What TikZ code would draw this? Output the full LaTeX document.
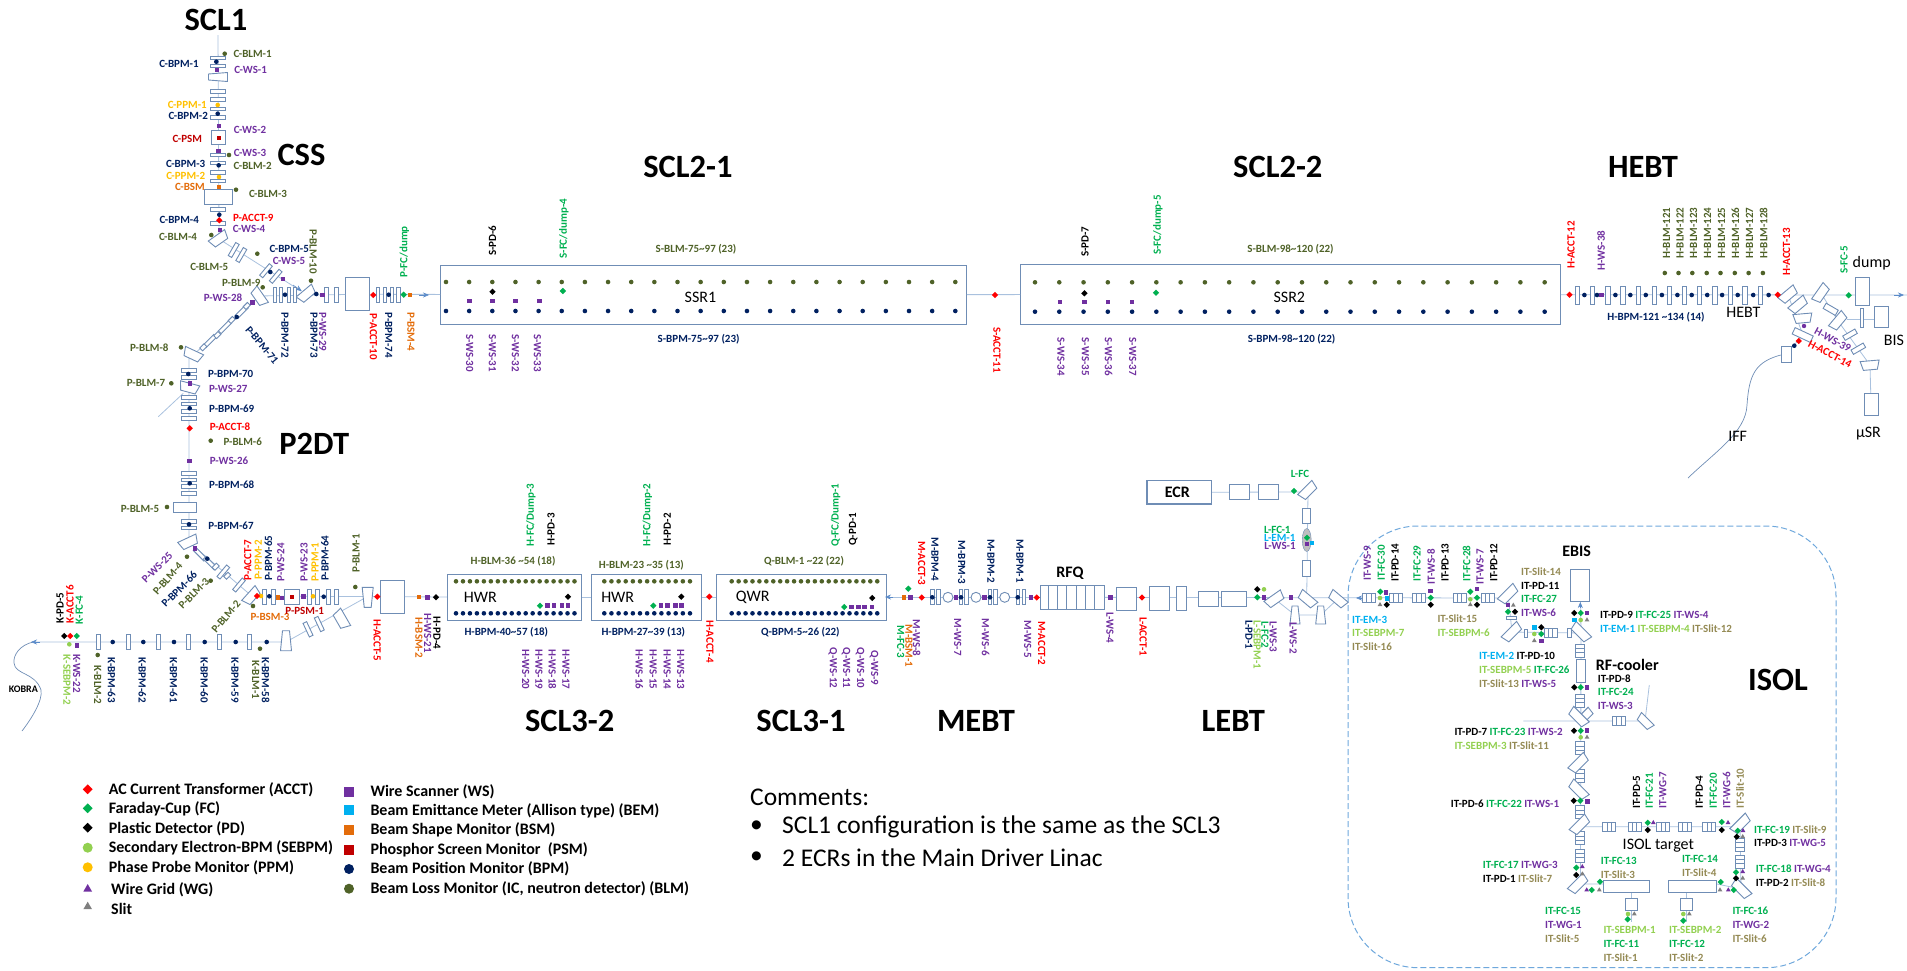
\documentclass[tikz,border=0pt]{standalone}
\usepackage{fontspec}
\setmainfont{Carlito}
\usetikzlibrary{shapes.geometric,arrows.meta}
\definecolor{cacct}{HTML}{FF0000}
\definecolor{cfc}{HTML}{00B050}
\definecolor{cpd}{HTML}{000000}
\definecolor{cseb}{HTML}{92D050}
\definecolor{cppm}{HTML}{FFC000}
\definecolor{cwg}{HTML}{7030A0}
\definecolor{cslit}{HTML}{7F7F7F}
\definecolor{tslit}{HTML}{948A54}
\definecolor{cws}{HTML}{7030A0}
\definecolor{cem}{HTML}{00B0F0}
\definecolor{cbsm}{HTML}{E36C0A}
\definecolor{cpsm}{HTML}{C00000}
\definecolor{cbpm}{HTML}{002060}
\definecolor{cblm}{HTML}{4F6228}
\definecolor{magline}{HTML}{6F8DB5}
\definecolor{beamline}{HTML}{A9C1DE}
\definecolor{arrowline}{HTML}{5B8BC9}
\definecolor{isolline}{HTML}{6FA8DC}
\newcounter{nid}
\tikzset{
	dot/.style={circle,inner sep=0pt,minimum size=4.6pt},
	sqr/.style={rectangle,inner sep=0pt,minimum size=4.4pt},
	dia/.style={diamond,inner sep=0pt,minimum size=6.5pt},
	tri/.style={regular polygon,regular polygon sides=3,inner sep=0pt,minimum size=5.5pt},
	acct/.style={dia,fill=cacct},
	fc/.style={dia,fill=cfc},
	pd/.style={dia,fill=cpd},
	seb/.style={dot,fill=cseb},
	ppm/.style={dot,fill=cppm},
	wg/.style={tri,fill=cwg},
	slit/.style={tri,fill=cslit},
	ws/.style={sqr,fill=cws},
	em/.style={sqr,fill=cem},
	bsm/.style={sqr,fill=cbsm},
	psm/.style={sqr,fill=cpsm},
	bpm/.style={dot,fill=cbpm},
	blm/.style={dot,fill=cblm},
	lg/.style={minimum size=10pt},
	lbl/.style={inner sep=0pt,font=\bfseries\fontsize{11}{12}\selectfont},
	ttl/.style={inner sep=0pt,font=\bfseries\fontsize{32.5}{34}\selectfont},
	blab/.style={inner sep=0pt,font=\fontsize{16}{18}\selectfont},
	bblab/.style={inner sep=0pt,font=\bfseries\fontsize{16}{18}\selectfont},
	leg/.style={inner sep=0pt,anchor=west,font=\bfseries\fontsize{16}{18}\selectfont},
	note/.style={inner sep=0pt,anchor=west,font=\fontsize{25.5}{28}\selectfont},
	mag/.style={rectangle,draw=magline,line width=0.9pt,fill=white,inner sep=0pt},
	box/.style={rectangle,draw=magline,line width=1.1pt,inner sep=0pt},
	mline/.style={draw=magline,line width=0.9pt,fill=white},
	beam/.style={draw=beamline,line width=0.8pt},
	arr/.style={draw=arrowline,line width=0.6pt,-{Stealth[length=6pt,width=5pt]}},
}
\newcommand{\mk}[3]{\stepcounter{nid}\node[#1] (m\thenid) at (#2,#3) {};}
\newcommand{\lb}[5][0]{\stepcounter{nid}\node[lbl,text=#2,rotate=#1] (t\thenid) at (#3,#4) {#5};}
\newcommand{\mg}[5]{\stepcounter{nid}\node[mag,minimum width=#3pt,minimum height=#4pt,rotate=#5] (g\thenid) at (#1,#2) {};}
\newcommand{\ttlb}[3]{\stepcounter{nid}\node[ttl] (h\thenid) at (#1,#2) {#3};}
\newcommand{\rw}[3]{\stepcounter{nid}\node[lbl,anchor=west] (r\thenid) at (#1,#2) {#3};}
\newcommand{\trp}[3]{\draw[mline,shift={(#1,#2)},rotate=#3] (-6.6,-4.6) rectangle (6.6,4.6) (-2.2,-4.6) -- (-2.2,4.6) (2.2,-4.6) -- (2.2,4.6);}
\newcommand{\dpl}[6]{\draw[mline,shift={(#1,#2)},rotate=#6] ({-#3/2},{-#5/2}) -- ({#3/2},{-#5/2}) -- ({#4/2},{#5/2}) -- ({-#4/2},{#5/2}) -- cycle;}
\newcommand{\tPD}[1]{\textcolor{cpd}{IT-PD-#1}}
\newcommand{\tFC}[1]{\textcolor{cfc}{IT-FC-#1}}
\newcommand{\tWS}[1]{\textcolor{cws}{IT-WS-#1}}
\newcommand{\tWG}[1]{\textcolor{cwg}{IT-WG-#1}}
\newcommand{\tEM}[1]{\textcolor{cem}{IT-EM-#1}}
\newcommand{\tSE}[1]{\textcolor{cseb}{IT-SEBPM-#1}}
\newcommand{\tSL}[1]{\textcolor{tslit}{IT-Slit-#1}}
\begin{document}
\begin{tikzpicture}[x=1pt,y=-1pt]
	\useasboundingbox (0,0) rectangle (1907,970);
	\node[box,minimum width=525.7pt,minimum height=59.3pt] (ssr1) at (703.5,294.7) {};
	\node[box,minimum width=539.6pt,minimum height=59.6pt] (ssr2) at (1290.5,294.5) {};
	\node[box,minimum width=134.4pt,minimum height=46pt] (hwr2) at (514.5,597.3) {};
	\node[box,minimum width=110pt,minimum height=46pt] (hwr1) at (646.7,597.3) {};
	\node[box,minimum width=169.7pt,minimum height=46pt] (qwr) at (801.2,597.3) {};
	\node[box,minimum width=64pt,minimum height=24pt] (rfq) at (1072.3,597.3) {};
	\node[box,minimum width=64.7pt,minimum height=23.3pt] (ecr) at (1179.3,492.3) {};
	\node[box,minimum width=19pt,minimum height=32pt] (ebis) at (1580.3,585.7) {};
	\node[box,minimum width=24pt,minimum height=33pt] (pbox) at (357.7,294.3) {};
	\node[box,minimum width=24pt,minimum height=33pt] (hbox) at (392.3,596.7) {};
	\draw[isolline,line width=1pt,dash pattern=on 6pt off 3pt,rounded corners=70pt] (1348,526) rectangle (1836,967.7);

	\draw[beam] (218,35) -- (219,232) -- (219,239) -- (301,291);
	\draw[beam] (259,296) -- (pbox) (pbox) -- (ssr1);
	\draw[beam] (259,297) -- (193,355) (189,355) -- (189,542) -- (251.7,596) -- (hbox);
	\draw[beam] (158.3,416.7) -- (183.3,393.3);
	\draw[beam] (hbox) -- (hwr2);
	\draw[beam] (hwr2) -- (hwr1);
	\draw[beam] (hwr1) -- (qwr);
	\draw[beam] (qwr) -- (rfq);
	\draw[beam] (33,642) -- (286,642) -- (366.7,597);
	\draw[beam] (ssr1) -- (ssr2);
	\draw[beam] (ssr2) -- (1907,295);
	\draw[beam] (rfq) -- (1510,598);
	\draw[beam] (ecr) -- (1308,492) -- (1306.7,598);
	\draw[beam] (1274.7,599) -- (1295,615) -- (1320.7,615) -- (1337.7,599);
	\draw[beam] (1788,295) -- (1803,335) -- (1786,354);
	\draw[beam] (1821,293) -- (1838,321) -- (1870,365) -- (1871,404);
	\draw[beam] (1846.7,319) -- (1881,319);
	\draw[magline,line width=0.7pt] (1780.7,355) .. controls (1755,362) and (1749,375) .. (1747,405) .. controls (1746,432) and (1715,452) .. (1688,478);
	\draw[magline,line width=0.7pt] (33,642) .. controls (20,645) and (13,655) .. (14,663) .. controls (15,675) and (35,672) .. (41,690) .. controls (43,700) and (32,718) .. (22,731);
	\draw[beam] (1508,594) -- (1512,632) -- (1581,633);
	\draw[beam] (ebis) -- (1581,632) -- (1580.5,884) -- (1627,884);
	\draw[beam] (1523.3,721) -- (1645,721) -- (1649.3,685);
	\draw[beam] (1580,826.7) -- (1740,826.7) -- (1741,889) -- (1717,884);
	\draw[beam] (1631.3,892) -- (1631.3,922) (1686.7,892) -- (1686.7,922);
	\draw[arr] (419,295) -- (429,295);
	\draw[arr] (1894,295) -- (1904,295);
	\draw[arr] (293,285) -- (301.7,291);
	\draw[arr] (40,642) -- (31,642);
	\draw[arr] (893,597) -- (885,597);
	\draw[arr] (1365,598) -- (1356,598);
	\draw[arr] (1580.3,608) -- (1580.3,602);

	\foreach \y in {58,66,91.3,99.3,109,117.7,155,163,172.3,181,209.3,223.7} {\mg{218}{\y}{15}{3.6}{0}}
	\dpl{218}{77}{9}{6}{19}{-90}
	\mg{218.7}{137.7}{14}{14}{0}
	\mg{218.7}{196.7}{28}{15}{0}
	\dpl{219}{239}{20}{15}{9}{35}
	\foreach \x/\y in {233.7/250,241.3/255} {\mg{\x}{\y}{15}{4}{60}}
	\foreach \x/\y in {266/270.7,275.7/276.3} {\mg{\x}{\y}{15}{4}{50}}
	\dpl{306.7}{294}{20}{15}{9}{40}
	\dpl{259}{296.7}{20}{15}{9}{-55}
	\foreach \x in {275,281,289,295,326.7,336.7,378,385,392,398.5} {\mg{\x}{295}{3.6}{15}{0}}
	\foreach \x/\y in {241.7/311.7,225/327,210/341} {\mg{\x}{\y}{15}{4}{45}}
	\foreach \x/\y in {246.7/306,231.7/320,217.3/335,203.3/347.3} {\mg{\x}{\y}{6}{4}{45}}
	\dpl{192.7}{354.7}{20}{15}{9}{-25}
	\foreach \y in {370.7,377.7,397.7,404,411.3,418.3,473.3,480,486.7,493.7,521.7,528} {\mg{189}{\y}{15}{3.6}{0}}
	\dpl{189}{387.7}{20}{15}{9}{-15}
	\mg{184.7}{507}{23}{10}{0}
	\dpl{188.7}{542.3}{20}{15}{9}{25}
	\foreach \x/\y in {200/554.3,210/563} {\mg{\x}{\y}{15}{4}{-45}}
	\foreach \x/\y in {223.3/572,239/585} {\mg{\x}{\y}{15}{4}{50}}
	\foreach \x/\y in {215.7/566.7,227.3/575.7} {\mg{\x}{\y}{6}{4}{45}}
	\dpl{251.7}{596}{20}{15}{9}{48}
	\foreach \x in {264.3,273.7,309,317.7,328.7,336} {\mg{\x}{596.7}{4}{15}{0}}
	\mg{291.7}{596.7}{15}{15}{0}
	\dpl{367.7}{597.3}{11}{7}{20}{0}
	\foreach \x in {98.3,128.7,158.7,188.7,219.3,249.3} {\mg{\x}{642}{4}{15}{0}}
	\dpl{286}{640.7}{7}{11}{20}{0}
	\foreach \x/\y in {308/629.3,319.3/624} {\mg{\x}{\y}{15}{4}{-65}}
	\dpl{341.3}{619.3}{20}{15}{10}{-60}

	\foreach \x in {1048.3,1057.7,1066.3,1076.7,1085.3,1094.3} {\draw[magline,line width=1pt] (\x,585.3) -- (\x,609.3);}
	\foreach \x in {932.7,938.7,961,966.7,990,995.3,1018,1024} {\mg{\x}{597.3}{3.6}{15}{0}}
	\foreach \x in {948,976,1004.7} {\draw[mline] (\x,597.3) circle (5);}
	\mg{1126}{599}{20}{23}{0}
	\mg{1159.3}{598.3}{20}{24}{0}
	\mg{1181.3}{598.3}{10}{24}{0}
	\mg{1208}{598.7}{20}{15}{0}
	\mg{1234}{598.7}{25}{15}{0}
	\dpl{1274.7}{599.3}{20}{16}{9}{35}
	\dpl{1295}{615}{6}{10}{18}{0}
	\dpl{1307.3}{599.3}{20}{16}{9}{-40}
	\dpl{1320.7}{615}{6}{10}{18}{0}
	\dpl{1337.7}{599.3}{20}{16}{9}{-40}
	\mg{1239.7}{492}{20}{15}{0}
	\mg{1268.3}{492}{20}{15}{0}
	\dpl{1308}{490.7}{20}{16}{9}{45}
	\mg{1306.3}{516.3}{8}{15}{0}
	\mg{1306.3}{568.3}{8}{16}{0}
	\node[ellipse,draw=magline,fill=lightgray,inner sep=0pt,minimum width=9pt,minimum height=23pt] (lfcell) at (1306.7,540) {};

	\foreach \x in {1577.5,1592.4,1607.9,1622.8,1638.3,1654.4,1669.3,1684.3,1699.2,1714.7,1730.2,1745.1,1760.6} {\mg{\x}{295}{4.5}{18}{0}}
	\dpl{1788.3}{294.7}{20}{16}{9}{40}
	\dpl{1798.3}{305}{20}{16}{9}{40}
	\dpl{1802.7}{318.3}{19}{14}{9}{5}
	\mg{1802.7}{335}{20}{7}{-25}
	\mg{1786.3}{354.3}{10}{16}{0}
	\dpl{1821}{293.3}{20}{16}{9}{55}
	\mg{1830.7}{309.3}{14}{6}{-30}
	\dpl{1838.3}{321}{20}{16}{9}{50}
	\foreach \x/\y in {1850/334.7,1858.3/348.7} {\mg{\x}{\y}{14}{5}{30}}
	\dpl{1870}{365.3}{19}{14}{9}{5}
	\mg{1871.4}{404.3}{14}{22}{0}
	\mg{1862.3}{291.7}{14.7}{28}{0}
	\mg{1862}{318.3}{3.5}{19}{0}
	\mg{1881}{316.7}{14}{21}{0}

	\foreach \x in {1369,1396,1419,1459.7,1487.7} {\trp{\x}{598}{0}}
	\dpl{1508.3}{594.3}{22}{18}{9}{45}
	\mg{1511}{617.7}{10}{3.5}{0}
	\dpl{1512}{632.3}{22}{18}{9}{45}
	\mg{1525.7}{633.3}{3}{8}{0}
	\trp{1550.7}{633.3}{0}
	\mg{1569.3}{633.3}{4}{9}{0}
	\dpl{1580.7}{632.3}{22}{18}{9}{-45}
	\foreach \y in {650.7,700.7,748.3,776,812.3,838.3,855.7} {\trp{1580.3}{\y}{90}}
	\mg{1580.7}{670.7}{9.5}{23}{0}
	\dpl{1586}{715}{14}{12}{8}{45}
	\dpl{1578.3}{717.3}{22}{18}{9}{-45}
	\trp{1619}{721}{0}
	\dpl{1645}{721.7}{18}{14}{8}{-45}
	\dpl{1578.7}{763.3}{22}{18}{9}{45}
	\dpl{1578.3}{790}{22}{18}{9}{-45}
	\dpl{1580}{825}{22}{18}{9}{45}
	\foreach \x in {1609.3,1634.7,1663.3,1685,1709.3} {\trp{\x}{826.7}{0}}
	\dpl{1740.7}{824}{22}{18}{9}{45}
	\foreach \y in {845,861.7} {\trp{1740}{\y}{90}}
	\dpl{1741}{889}{22}{18}{9}{-45}
	\dpl{1578.3}{884}{22}{18}{9}{45}
	\mg{1626.7}{886.7}{46}{12}{0}
	\mg{1692.7}{886.7}{48}{12}{0}
	\mg{1631.3}{904}{12}{12}{0}
	\mg{1686.7}{904}{12}{12}{0}

	\foreach \x/\y in {216.3/61.7,217.7/113.7,218.7/165.3,219.3/214.7,270.3/272,285/294.7,316.3/294,388.7/294.7,236.7/317,188.3/374,189.7/408.3,189.7/483.3,189/524.3,207.3/558.7,269.3/596.3,323.7/596.7} {\mk{bpm}{\x}{\y}}
	\foreach \x/\y in {224.7/53.7,229/155,236/189.7,211.3/235,257.3/253.7,311/280.7,262.7/287.3,181/347.3,171.3/383.3,210.7/440.7,167/507,187/556.7,210.7/580.7,253/606,355.3/587,260/648.7,97.7/655} {\mk{blm}{\x}{\y}}
	\foreach \x/\y in {216.7/70,218.7/126,218.3/151,220/229.7,282.7/278.7,322.3/294.7,252.3/302.3,189.7/383.3,189.3/461,195/548.3,282/597.7,303.3/596.3,427.3/597.3,76.7/645.3} {\mk{ws}{\x}{\y}}
	\foreach \x/\y in {217.7/105,219/177,261/596,313/596.3} {\mk{ppm}{\x}{\y}}
	\foreach \x/\y in {218.7/186.7,410/294.7,277.7/597.3,418.7/597} {\mk{bsm}{\x}{\y}}
	\foreach \x/\y in {218.7/137.7,291.7/596.7} {\mk{psm}{\x}{\y}}
	\foreach \x/\y in {219.3/220.3,373.3/295,189.7/428.3,257/596,377.3/596.7,70.3/636} {\mk{acct}{\x}{\y}}
	\mk{fc}{403.7}{294.7}
	\mk{fc}{76.7}{636}
	\mk{pd}{436}{597.3}
	\mk{pd}{64.3}{636}
	\mk{seb}{69.3}{644.3}
	\foreach \x in {112.7,143.3,174,204.7,235.7,266.7} {\mk{bpm}{\x}{642}}

	\foreach \i in {0,...,22} {\mk{blm}{446+23.15*\i}{282}\mk{bpm}{446+23.15*\i}{311}}
	\foreach \i in {0,...,21} {\mk{blm}{1035+24.27*\i}{282.3}\mk{bpm}{1035+24.27*\i}{311.7}}
	\foreach \x in {469.6,492.5,515.4,539.3} {\mk{ws}{\x}{301}}
	\mk{pd}{492.5}{291.7}
	\mk{fc}{562.9}{291}
	\foreach \x in {1059.7,1084.4,1108,1132} {\mk{ws}{\x}{302}}
	\mk{pd}{1084.4}{293.3}
	\mk{fc}{1156}{292.7}
	\foreach \i in {0,...,17} {\mk{blm}{456+6.97*\i}{581.3}\mk{bpm}{456+6.97*\i}{613.3}}
	\foreach \i in {0,...,12} {\mk{blm}{604.3+7.14*\i}{581.3}\mk{bpm}{604.3+7.14*\i}{613.3}}
	\foreach \i in {0,...,21} {\mk{blm}{731.7+6.93*\i}{581.3}\mk{bpm}{731.7+6.93*\i}{613.3}}
	\mk{pd}{568}{596.7}
	\mk{fc}{540}{605.7}
	\foreach \x in {547.3,554,562,568} {\mk{ws}{\x}{605.3}}
	\mk{pd}{681.3}{596.7}
	\mk{fc}{653.3}{605.7}
	\foreach \x in {660.7,667.3,675.3,681.3} {\mk{ws}{\x}{605.3}}
	\mk{pd}{872.3}{598}
	\mk{fc}{844.3}{607}
	\foreach \x in {851.3,858.3,864.3,871.7} {\mk{ws}{\x}{607}}
	\mk{acct}{709.3}{596.7}
	\mk{acct}{995}{295}

	\mk{bsm}{904}{597.3}
	\mk{fc}{908.3}{588.7}
	\foreach \x in {910.3,956,984.3,1030.7,1110.3,1264,1291} {\mk{ws}{\x}{597.5}}
	\foreach \x in {921.7,1036.7,1142} {\mk{acct}{\x}{597.5}}
	\foreach \x in {932.3,961,990,1017.7} {\mk{bpm}{\x}{597.3}}
	\mk{pd}{1257.3}{589.3}
	\mk{seb}{1264}{589.3}
	\mk{fc}{1257.3}{597.3}
	\mk{fc}{1294}{491}
	\mk{fc}{1307}{537.7}
	\mk{ws}{1307}{543.7}
	\mk{em}{1311.7}{543}

	\mk{acct}{1569.5}{294.7}
	\foreach \x in {1584.4,1597,1615.4,1630.3,1645.8,1661.9,1677.4,1691.7,1707.2,1722.1,1737.7,1753.2,1768.6} {\mk{bpm}{\x}{295}}
	\mk{ws}{1601.6}{295}
	\foreach \x in {1664.8,1678.5,1692.3,1706.7,1720.5,1734.8,1748.6,1762.9} {\mk{blm}{\x}{273}}
	\mk{acct}{1777.7}{294.7}
	\mk{fc}{1848.7}{295.3}
	\node[dot,fill=cws,minimum size=4.4pt] (hws39) at (1804,326) {};
	\mk{acct}{1798.7}{341}
	\mk{bpm}{1794.3}{345.7}

	\foreach \x/\y in {1380.3/591.7,1430.7/597.7,1470.3/591.7,1477/597.7,1508/611.7,1541.3/634,1580.7/613,1580.7/687.3,1580.7/730.7,1580.3/800.7,1647.7/822.7,1721.7/822,1737.7/830.7,1736/872.3,1576.3/867.7,1591.7/890,1600/881.7,1733.7/890,1720.7/882,1627.7/919.3,1683.3/920.7} {\mk{fc}{\x}{\y}}
	\foreach \x/\y in {1386/592.3,1430.3/590.7,1477/589,1507.7/605,1541.3/640.7,1587/613,1586.7/687.3,1587/730.3,1587.3/801.3} {\mk{ws}{\x}{\y}}
	\foreach \x/\y in {1386.7/604.7,1430.7/604.7,1477/604.7,1515/611.7,1541.3/627.3,1574.3/613,1574.3/687.3,1574/730.7,1573.7/800.7,1647.7/830,1721.7/830,1736.7/836.7,1736/878.3,1576.3/875} {\mk{pd}{\x}{\y}}
	\foreach \x/\y in {1380/598,1470.3/599.3,1534.3/634,1580.7/620,1580.7/737.3,1628/914,1683.3/914} {\mk{seb}{\x}{\y}}
	\foreach \x/\y in {1380/604.7,1470.3/604.7,1513.3/605.3,1534.3/640.7,1587/620,1587/737.3,1742.7/836.7,1742.7/878.3,1582.3/874,1599.3/890,1720/890,1634.3/914,1689.3/914} {\mk{slit}{\x}{\y}}
	\foreach \x/\y in {1386.7/598.3,1534.3/627.3,1574.3/620} {\mk{em}{\x}{\y}}
	\foreach \x/\y in {1653.3/822.7,1728/822.7,1743/830.7,1742.7/871.7,1582.3/866.7,1586.7/890,1728.3/890} {\mk{wg}{\x}{\y}}

	\ttlb{216}{20}{SCL1}
	\ttlb{301.5}{155}{CSS}
	\ttlb{687.9}{166.7}{SCL2-1}
	\ttlb{1277.8}{166.7}{SCL2-2}
	\ttlb{1643}{166.7}{HEBT}
	\ttlb{314.3}{444}{P2DT}
	\ttlb{569.7}{720.7}{SCL3-2}
	\ttlb{801}{720.7}{SCL3-1}
	\ttlb{976}{720.7}{MEBT}
	\ttlb{1233.3}{720.7}{LEBT}
	\ttlb{1778}{680}{ISOL}
	\node[blab] (ssr1lab) at (700.4,297.3) {SSR1};
	\node[blab] (ssr2lab) at (1289.3,297.3) {SSR2};
	\node[blab] (hwr2lab) at (480.3,597.3) {HWR};
	\node[blab] (hwr1lab) at (617.7,597.3) {HWR};
	\node[blab] (qwrlab) at (752.7,597.3) {QWR};
	\node[blab] (hebtlab) at (1743.4,312.3) {HEBT};
	\node[blab] (dumplab) at (1871.7,263.3) {dump};
	\node[blab] (bislab) at (1894,340.7) {BIS};
	\node[blab] (iff) at (1737.7,436.7) {IFF};
	\node[blab] (musr) at (1868.5,433.3) {µSR};
	\node[blab] (isoltg) at (1658.3,846) {ISOL target};
	\node[bblab] (rfqlab) at (1070,573.3) {RFQ};
	\node[bblab] (ecrlab) at (1177.3,492.3) {ECR};
	\node[bblab] (ebislab) at (1576.7,551.7) {EBIS};
	\node[bblab] (rfcool) at (1627.3,665) {RF-cooler};
	\node[lbl,font=\bfseries\fontsize{10}{11}\selectfont] (kobra) at (23.3,689.3) {KOBRA};

	\lb{cbpm}{179}{64}{C-BPM-1}
	\lb{cblm}{252.7}{54}{C-BLM-1}
	\lb{cws}{250.7}{70.3}{C-WS-1}
	\lb{cppm}{187.3}{105}{C-PPM-1}
	\lb{cbpm}{188.3}{116}{C-BPM-2}
	\lb{cws}{250}{130}{C-WS-2}
	\lb{cpsm}{187.3}{138.7}{C-PSM}
	\lb{cws}{250}{152.7}{C-WS-3}
	\lb{cblm}{252.7}{165.7}{C-BLM-2}
	\lb{cbpm}{185.7}{164}{C-BPM-3}
	\lb{cppm}{185.7}{176}{C-PPM-2}
	\lb{cbsm}{190}{186.7}{C-BSM}
	\lb{cblm}{268}{193.7}{C-BLM-3}
	\lb{cbpm}{179.3}{219.7}{C-BPM-4}
	\lb{cacct}{253.3}{218}{P-ACCT-9}
	\lb{cws}{249}{229.3}{C-WS-4}
	\lb{cblm}{178}{236.7}{C-BLM-4}
	\lb{cblm}{209.3}{266.7}{C-BLM-5}
	\lb{cbpm}{289.3}{249}{C-BPM-5}
	\lb{cws}{289}{261.3}{C-WS-5}
	\lb[-90]{cblm}{313.3}{251.7}{P-BLM-10}
	\lb[90]{cfc}{404.3}{251.7}{P-FC/dump}
	\lb{cblm}{241.3}{282.7}{P-BLM-9}
	\lb{cws}{223}{297.3}{P-WS-28}
	\lb[-90]{cbpm}{285}{335}{P-BPM-72}
	\lb[-90]{cbpm}{314}{335}{P-BPM-73}
	\lb[-90]{cws}{322.7}{332}{P-WS-29}
	\lb[-90]{cacct}{373.5}{337}{P-ACCT-10}
	\lb[-90]{cbpm}{388.7}{335}{P-BPM-74}
	\lb[-90]{cbsm}{411}{332}{P-BSM-4}
	\lb[-50]{cbpm}{262}{345}{P-BPM-71}
	\lb{cblm}{149.3}{348}{P-BLM-8}
	\lb{cbpm}{230.7}{374}{P-BPM-70}
	\lb{cws}{228.3}{388.7}{P-WS-27}
	\lb{cblm}{146}{382.7}{P-BLM-7}
	\lb{cbpm}{231.7}{408.3}{P-BPM-69}
	\lb{cacct}{230}{427}{P-ACCT-8}
	\lb{cblm}{242.7}{441.7}{P-BLM-6}
	\lb{cws}{229}{461}{P-WS-26}
	\lb{cbpm}{231.7}{484.7}{P-BPM-68}
	\lb{cblm}{140}{508.7}{P-BLM-5}
	\lb{cbpm}{231}{525.3}{P-BPM-67}
	\lb[45]{cws}{157.3}{567.3}{P-WS-25}
	\lb[48]{cblm}{167.7}{578.7}{P-BLM-4}
	\lb[45]{cbpm}{179.3}{589.3}{P-BPM-66}
	\lb[45]{cblm}{194}{593.3}{P-BLM-3}
	\lb[50]{cblm}{226}{616.7}{P-BLM-2}
	\lb[90]{cacct}{247.7}{560}{P-ACCT-7}
	\lb[90]{cppm}{258.3}{560}{P-PPM-2}
	\lb[90]{cbpm}{268.3}{558.3}{P-BPM-65}
	\lb[90]{cws}{280.7}{562.3}{P-WS-24}
	\lb[90]{cws}{304}{562.3}{P-WS-23}
	\lb[90]{cppm}{315}{562.3}{P-PPM-1}
	\lb[90]{cbpm}{325}{558.3}{P-BPM-64}
	\lb{cbsm}{270}{616.7}{P-BSM-3}
	\lb{cpsm}{304.7}{611.3}{P-PSM-1}
	\lb[90]{cblm}{356}{553.3}{P-BLM-1}
	\lb[-90]{cacct}{377.3}{640}{H-ACCT-5}
	\lb[-90]{cbsm}{419}{637.7}{H-BSM-2}
	\lb[-90]{cws}{427.7}{633}{H-WS-21}
	\lb[-90]{cpd}{437}{633}{H-PD-4}
	\foreach \x/\nn in {111.7/63,142.3/62,173.7/61,204.3/60,235/59,265.7/58} {\lb[-90]{cbpm}{\x}{680}{K-BPM-\nn}}
	\lb[-90]{cblm}{255.7}{680}{K-BLM-1}
	\lb[-90]{cblm}{97.7}{685}{K-BLM-2}
	\lb[90]{cpd}{60}{608.3}{K-PD-5}
	\lb[90]{cacct}{70}{604.3}{K-ACCT6}
	\lb[90]{cfc}{79.3}{610}{K-FC-4}
	\lb[-90]{cseb}{67}{680}{K-SEBPM-2}
	\lb[-90]{cws}{76.7}{673.3}{K-WS-22}

	\lb[90]{cpd}{492.5}{240.7}{S-PD-6}
	\lb[90]{cfc}{563.9}{228.7}{S-FC/dump-4}
	\foreach \x/\nn in {469.6/30,492.5/31,515.4/32,537.5/33} {\lb[-90]{cws}{\x}{353}{S-WS-\nn}}
	\lb{cblm}{696}{249.3}{S-BLM-75\textasciitilde97 (23)}
	\lb{cbpm}{698.6}{339.3}{S-BPM-75\textasciitilde97 (23)}
	\lb[-90]{cacct}{997}{350}{S-ACCT-11}
	\lb[90]{cpd}{1085}{241.7}{S-PD-7}
	\lb[90]{cfc}{1157.9}{225}{S-FC/dump-5}
	\foreach \x/\nn in {1061/34,1085.5/35,1108.5/36,1132.6/37} {\lb[-90]{cws}{\x}{356.7}{S-WS-\nn}}
	\lb{cblm}{1290.5}{249.3}{S-BLM-98\textasciitilde120 (22)}
	\lb{cbpm}{1291.6}{339.3}{S-BPM-98\textasciitilde120 (22)}
	\lb[90]{cacct}{1571}{245}{H-ACCT-12}
	\lb[90]{cws}{1601}{250.7}{H-WS-38}
	\foreach \x/\nn in {1666.5/121,1680/122,1693.5/123,1707.5/124,1721.5/125,1735.5/126,1749.5/127,1763.5/128} {\lb[90]{cblm}{\x}{233}{H-BLM-\nn}}
	\lb{cbpm}{1656}{317.7}{H-BPM-121 \textasciitilde134 (14)}
	\lb[90]{cacct}{1786.5}{251.7}{H-ACCT-13}
	\lb[90]{cfc}{1844}{260}{S-FC-5}
	\lb[-28]{cws}{1832.7}{340}{H-WS-39}
	\lb[-28]{cacct}{1830}{354}{H-ACCT-14}

	\lb[90]{cfc}{531}{515}{H-FC/Dump-3}
	\lb[90]{cpd}{551}{529.3}{H-PD-3}
	\lb{cblm}{513}{561.3}{H-BLM-36 \textasciitilde54 (18)}
	\lb{cbpm}{506.3}{632.7}{H-BPM-40\textasciitilde57 (18)}
	\foreach \x/\nn in {525.7/20,539/19,552.3/18,566/17} {\lb[-90]{cws}{\x}{669.3}{H-WS-\nn}}
	\lb[90]{cfc}{647.3}{515}{H-FC/Dump-2}
	\lb[90]{cpd}{667.3}{529.3}{H-PD-2}
	\lb{cblm}{641.3}{565.3}{H-BLM-23 \textasciitilde35 (13)}
	\lb{cbpm}{643.3}{632.7}{H-BPM-27\textasciitilde39 (13)}
	\foreach \x/\nn in {639.3/16,653.3/15,667.3/14,680.7/13} {\lb[-90]{cws}{\x}{669.3}{H-WS-\nn}}
	\lb[-90]{cacct}{710}{641.7}{H-ACCT-4}
	\lb[90]{cfc}{835.7}{515}{Q-FC/Dump-1}
	\lb[90]{cpd}{853.3}{529.3}{Q-PD-1}
	\lb{cblm}{804}{561.3}{Q-BLM-1 \textasciitilde22 (22)}
	\lb{cbpm}{800.3}{632.7}{Q-BPM-5\textasciitilde26 (22)}
	\foreach \x/\nn in {832.7/12,846/11,860/10,874/9} {\lb[-90]{cws}{\x}{668}{Q-WS-\nn}}

	\lb[-90]{cfc}{900.7}{641.7}{M-FC-3}
	\lb[-90]{cbsm}{909}{646}{M-BSM-1}
	\lb[-90]{cws}{916.7}{638}{M-WS-8}
	\lb[-90]{cacct}{921.7}{563.3}{M-ACCT-3}
	\lb[-90]{cbpm}{935}{559.3}{M-BPM-4}
	\lb[-90]{cbpm}{961.7}{562.7}{M-BPM-3}
	\lb[-90]{cbpm}{991}{561}{M-BPM-2}
	\lb[-90]{cbpm}{1020}{561}{M-BPM-1}
	\lb[-90]{cws}{957.7}{637.3}{M-WS-7}
	\lb[-90]{cws}{985.7}{637.3}{M-WS-6}
	\lb[-90]{cws}{1027.7}{639.3}{M-WS-5}
	\lb[-90]{cacct}{1041.7}{643.3}{M-ACCT-2}
	\lb[-90]{cws}{1110}{627.7}{L-WS-4}
	\lb[-90]{cacct}{1143.3}{636.7}{L-ACCT-1}
	\lb[-90]{cbpm}{1249}{635}{L-PD-1}
	\lb[-90]{cseb}{1257.3}{645}{L-SEBPM-1}
	\lb[-90]{cfc}{1265}{635}{L-FC-2}
	\lb[-90]{cws}{1273.3}{636.7}{L-WS-3}
	\lb[-90]{cws}{1293.3}{638.3}{L-WS-2}
	\lb{cfc}{1300}{474.3}{L-FC}
	\lb{cfc}{1277.3}{530.3}{L-FC-1}
	\lb{cem}{1279.7}{538}{L-EM-1}
	\lb{cws}{1280}{546}{L-WS-1}

	\lb[90]{cws}{1367.3}{563.3}{IT-WS-9}
	\lb[90]{cfc}{1381.3}{562.7}{IT-FC-30}
	\lb[90]{cpd}{1395}{562.7}{IT-PD-14}
	\lb[90]{cfc}{1417}{563.3}{IT-FC-29}
	\lb[90]{cws}{1431}{566.7}{IT-WS-8}
	\lb[90]{cpd}{1445}{562.7}{IT-PD-13}
	\lb[90]{cfc}{1466.7}{563.3}{IT-FC-28}
	\lb[90]{cws}{1480}{566.7}{IT-WS-7}
	\lb[90]{cpd}{1493.7}{562.7}{IT-PD-12}
	\lb[90]{cpd}{1636.7}{792.3}{IT-PD-5}
	\lb[90]{cfc}{1649.3}{790.7}{IT-FC-21}
	\lb[90]{cwg}{1662.7}{790}{IT-WG-7}
	\lb[90]{cpd}{1699.3}{792.3}{IT-PD-4}
	\lb[90]{cfc}{1713.3}{790.7}{IT-FC-20}
	\lb[90]{cwg}{1726.7}{790}{IT-WG-6}
	\lb[90]{tslit}{1740}{788.3}{IT-Slit-10}
	\rw{1352}{619.7}{\tEM{3}}
	\rw{1352}{633.3}{\tSE{7}}
	\rw{1352}{647}{\tSL{16}}
	\rw{1437.3}{618.7}{\tSL{15}}
	\rw{1437.3}{632.3}{\tSE{6}}
	\rw{1521}{572}{\tSL{14}}
	\rw{1521}{585.7}{\tPD{11}}
	\rw{1521}{599.3}{\tFC{27}}
	\rw{1521}{613}{\tWS{6}}
	\rw{1479}{655.7}{\tEM{2} \tPD{10}}
	\rw{1479}{669.7}{\tSE{5} \tFC{26}}
	\rw{1479}{683.3}{\tSL{13} \tWS{5}}
	\rw{1600}{614.7}{\tPD{9} \tFC{25} \tWS{4}}
	\rw{1600}{628.3}{\tEM{1} \tSE{4} \tSL{12}}
	\rw{1597.7}{678.7}{\tPD{8}}
	\rw{1597.7}{692.3}{\tFC{24}}
	\rw{1597.7}{706.3}{\tWS{3}}
	\rw{1454.3}{731.7}{\tPD{7} \tFC{23} \tWS{2}}
	\rw{1454.3}{745.7}{\tSE{3} \tSL{11}}
	\rw{1450.7}{804}{\tPD{6} \tFC{22} \tWS{1}}
	\rw{1754}{829.3}{\tFC{19} \tSL{9}}
	\rw{1754}{842.7}{\tPD{3} \tWG{5}}
	\rw{1755.7}{868.7}{\tFC{18} \tWG{4}}
	\rw{1755.7}{882.7}{\tPD{2} \tSL{8}}
	\rw{1482.7}{865.3}{\tFC{17} \tWG{3}}
	\rw{1482.7}{879}{\tPD{1} \tSL{7}}
	\rw{1600.7}{861.3}{\tFC{13}}
	\rw{1600.7}{875}{\tSL{3}}
	\rw{1682}{859.3}{\tFC{14}}
	\rw{1682}{872.7}{\tSL{4}}
	\rw{1545}{911}{\tFC{15}}
	\rw{1545}{924.7}{\tWG{1}}
	\rw{1545}{938.3}{\tSL{5}}
	\rw{1603.3}{930}{\tSE{1}}
	\rw{1603.3}{943.7}{\tFC{11}}
	\rw{1603.3}{957.3}{\tSL{1}}
	\rw{1669}{930}{\tSE{2}}
	\rw{1669}{943.7}{\tFC{12}}
	\rw{1669}{957.3}{\tSL{2}}
	\rw{1732.3}{911}{\tFC{16}}
	\rw{1732.3}{924.7}{\tWG{2}}
	\rw{1732.3}{938.3}{\tSL{6}}

	\mk{acct,lg}{87.7}{789.3}
	\mk{fc,lg}{87.7}{808.3}
	\mk{pd,lg}{87.7}{827.7}
	\mk{seb,lg}{87.7}{847.7}
	\mk{ppm,lg}{87.7}{867.3}
	\mk{wg,lg}{87.7}{889}
	\mk{slit,lg}{87.7}{906.7}
	\mk{ws,lg}{349}{791.7}
	\mk{em,lg}{349}{810.3}
	\mk{bsm,lg}{349}{830}
	\mk{psm,lg}{349}{850}
	\mk{bpm,lg}{349}{869}
	\mk{blm,lg}{349}{888.7}
	\node[leg] (lacct) at (108.6,789.3) {AC Current Transformer (ACCT)};
	\node[leg] (lfc) at (108.6,809.3) {Faraday-Cup (FC)};
	\node[leg] (lpd) at (108.6,828.3) {Plastic Detector (PD)};
	\node[leg] (lseb) at (108.6,848) {Secondary Electron-BPM (SEBPM)};
	\node[leg] (lppm) at (108.6,867.3) {Phase Probe Monitor (PPM)};
	\node[leg] (lwg) at (111,889.3) {Wire Grid (WG)};
	\node[leg] (lslit) at (111,908.7) {Slit};
	\node[leg] (lws) at (370.3,791.3) {Wire Scanner (WS)};
	\node[leg] (lem) at (370.3,810.7) {Beam Emittance Meter (Allison type) (BEM)};
	\node[leg] (lbsm) at (370.3,830.3) {Beam Shape Monitor (BSM)};
	\node[leg] (lpsm) at (370.3,849.7) {Phosphor Screen Monitor~~(PSM)};
	\node[leg] (lbpm) at (370.3,869) {Beam Position Monitor (BPM)};
	\node[leg] (lblm) at (370.3,888.3) {Beam Loss Monitor (IC, neutron detector) (BLM)};
	\node[note] (cmt) at (750,797) {Comments:};
	\node[note] (b1) at (750,827) {\textbullet};
	\node[note] (n1) at (782,827) {SCL1 configuration is the same as the SCL3};
	\node[note] (b2) at (750,858) {\textbullet};
	\node[note] (n2) at (782,858) {2 ECRs in the Main Driver Linac};
\end{tikzpicture}
\end{document}
